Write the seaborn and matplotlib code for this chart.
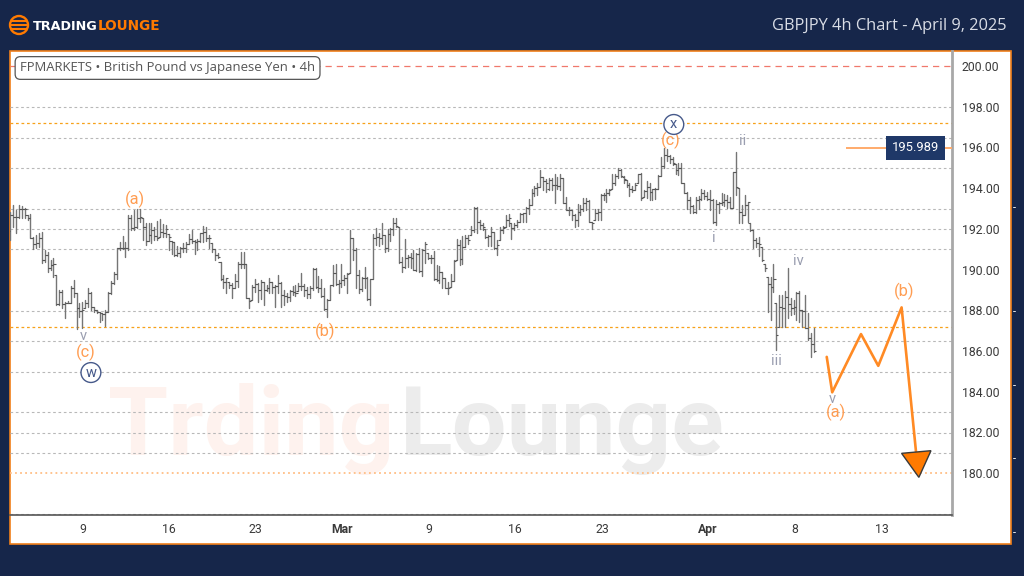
import matplotlib
matplotlib.use('Agg')
import matplotlib.pyplot as plt
from matplotlib.patches import Circle, Rectangle
import numpy as np
import pandas as pd
import seaborn as sns

# bars, left to right
bar_high = [
    192.84,193.17,192.92,193.17,193.1,193.04,192.68,192.75,191.61,191.69,191.78,191.83,190.96,190.88,190.47,190.55,189.73,189.02,188.99,188.42,188.45,189.2,189.48,188.86,188.34,188.42,188.5,189.07,188.91,188.17,188.01,187.9,187.85,188.01,188.88,189.43,189.89,191.04,191.37,191.66,191.37,192.68,192.68,192.92,193.0,193.0,192.55,192.27,192.3,
    192.27,192.11,192.38,192.47,192.24,192.19,191.73,191.4,191.34,191.17,191.12,191.29,191.37,191.73,191.94,191.45,191.48,191.78,192.14,192.07,191.7,191.29,191.0,190.79,190.39,189.73,189.6,189.37,189.32,189.77,190.35,190.88,190.88,190.25,188.62,189.24,189.53,189.32,189.48,189.4,189.24,189.6,189.37,189.24,189.73,189.37,188.99,
    188.83,188.99,189.2,189.24,189.32,189.81,189.27,189.16,189.2,190.06,190.06,189.68,189.53,189.07,188.55,189.24,190.22,190.25,189.48,190.25,189.73,189.81,191.94,191.53,191.07,189.98,189.65,190.11,189.65,189.53,191.73,192.06,191.78,192.27,191.7,191.99,192.06,192.51,192.51,192.11,190.63,191.5,190.71,190.79,190.96,190.79,191.04,190.99,191.37,
    190.79,190.71,190.92,190.22,190.17,189.89,189.61,189.4,189.78,190.47,191.48,191.45,191.65,191.69,191.69,192.14,193.05,193.05,192.43,192.3,191.97,191.69,192.07,191.86,191.45,192.1,192.14,192.68,192.73,192.3,192.3,192.46,192.79,192.79,193.09,193.45,193.94,194.1,194.23,194.89,194.53,194.43,194.48,194.48,194.69,194.53,194.69,194.48,193.55,
    193.08,192.92,192.72,193.21,193.17,193.54,193.54,193.41,192.35,193.0,193.0,193.71,193.77,193.98,193.98,194.72,194.72,194.97,194.92,194.59,194.39,194.23,194.1,194.23,194.72,194.75,193.9,194.36,194.26,193.98,194.03,194.64,195.54,195.95,195.9,195.62,195.51,195.18,195.25,195.25,194.26,193.82,193.58,193.17,193.58,193.61,193.94,193.9,193.82,
    193.91,193.47,193.42,193.34,193.75,193.7,193.66,193.58,194.78,195.76,194.02,193.17,193.66,193.34,192.27,191.94,191.53,191.62,191.12,190.26,189.65,189.65,190.26,188.34,188.75,188.75,188.95,190.06,188.59,188.5,188.91,188.95,188.01,188.75,187.85,186.87,187.14,
]
bar_low = [
    191.45,192.1,191.78,192.51,192.51,192.51,192.43,191.53,191.0,191.04,191.12,190.3,190.38,189.89,189.97,189.65,188.25,188.25,188.09,187.63,188.34,188.34,188.66,187.06,187.68,187.11,188.09,188.17,188.01,187.93,187.85,187.44,187.52,187.24,187.93,188.78,189.27,189.56,190.96,191.0,190.63,190.96,191.94,191.94,192.02,192.35,191.45,191.2,191.4,
    191.29,191.45,191.45,191.61,191.61,191.61,190.96,190.75,190.68,190.68,190.63,190.85,190.85,191.24,191.29,190.76,190.96,191.34,191.37,191.4,191.04,190.88,190.47,190.55,189.48,189.07,188.83,189.07,188.62,189.11,189.16,190.06,190.06,188.62,188.12,188.5,188.91,188.42,188.55,188.26,188.95,188.83,188.83,188.17,188.83,188.17,188.26,
    188.42,188.45,188.75,188.71,188.94,188.99,188.71,188.58,188.62,188.99,189.11,188.88,188.67,188.01,187.68,188.5,189.2,189.24,188.83,189.16,189.24,188.83,189.81,190.47,189.11,188.83,188.94,189.07,188.5,188.26,189.53,191.2,191.17,191.24,190.88,190.91,191.4,191.7,192.11,190.3,189.89,190.06,190.14,190.06,189.98,189.93,189.89,189.7,190.3,
    190.5,190.3,189.48,189.45,189.32,189.07,189.07,188.8,189.16,189.45,190.47,190.22,190.27,191.12,191.25,191.69,191.86,191.81,191.97,191.94,191.53,191.15,191.15,190.99,190.71,191.45,191.78,192.1,192.14,191.48,191.94,192.1,192.35,192.35,192.35,192.73,193.17,193.61,193.66,194.04,193.91,193.82,193.91,193.91,193.25,193.94,193.91,193.25,192.92,
    192.67,192.46,192.1,192.13,192.67,192.89,192.95,192.35,191.97,192.46,192.43,192.46,193.41,193.33,193.66,193.94,194.15,194.48,194.53,194.26,194.07,193.61,193.82,193.9,194.23,193.44,193.58,193.54,193.44,193.44,193.49,193.98,194.59,194.97,195.34,195.25,195.13,194.72,194.64,194.23,193.74,193.0,192.79,192.76,192.76,193.0,193.41,193.49,193.41,
    192.93,192.27,192.19,192.76,193.17,193.14,193.01,193.01,193.01,193.66,192.27,192.27,192.68,192.35,191.89,191.07,191.12,190.68,190.42,189.93,187.93,187.52,188.91,186.05,187.19,187.19,187.19,187.6,187.77,187.8,187.52,187.44,187.19,187.11,186.54,185.72,185.96,
]
bar_close = [
    192.68,192.6,192.6,193.0,192.97,192.96,192.51,191.53,191.24,191.29,191.53,190.47,190.74,190.06,190.22,190.25,188.29,188.91,188.29,188.34,188.38,189.07,188.83,188.09,187.95,188.0,188.38,188.83,188.17,188.01,187.93,187.85,187.8,187.93,188.83,189.32,189.76,191.04,191.07,191.07,191.07,192.55,192.02,192.1,192.55,192.6,192.1,191.4,191.7,
    191.94,191.66,191.53,191.86,191.78,191.99,191.61,191.37,190.71,190.79,191.04,191.07,191.24,191.5,191.4,191.37,191.4,191.78,191.86,191.53,191.56,191.0,190.71,190.63,189.53,189.37,189.57,189.25,189.07,189.43,190.25,190.25,190.28,188.62,188.47,189.16,189.27,188.99,189.37,188.99,189.07,189.37,189.16,189.2,189.32,188.75,188.72,
    188.67,188.94,188.88,188.83,189.2,189.2,188.99,188.78,189.11,190.03,189.12,189.11,188.71,188.06,188.5,189.22,189.81,189.29,189.32,189.48,189.57,189.8,191.53,190.96,189.73,189.04,189.6,189.6,188.53,189.53,191.53,191.61,191.56,191.7,191.04,191.73,191.99,192.27,192.14,190.35,190.14,190.58,190.6,190.55,189.98,190.75,189.93,190.96,191.24,
    190.55,190.55,189.52,189.48,189.89,189.57,189.1,189.07,189.45,190.43,191.2,190.5,191.12,191.53,191.45,191.94,193.03,192.35,192.19,192.1,191.58,191.65,191.86,191.04,191.2,191.94,192.02,192.46,192.51,192.02,192.19,192.35,192.73,192.76,193.01,193.17,193.74,193.99,194.04,194.56,194.36,194.23,194.4,194.15,194.15,194.1,194.48,193.28,192.92,
    192.92,192.67,192.43,192.84,193.0,193.25,193.38,192.35,192.27,192.79,192.84,193.66,193.66,193.74,193.9,194.26,194.59,194.89,194.59,194.43,194.15,193.94,193.9,194.15,194.69,193.54,193.87,194.07,193.82,193.94,193.98,194.61,195.08,195.62,195.57,195.41,195.25,194.89,194.97,194.23,193.77,193.44,193.12,192.84,193.44,193.49,193.74,193.61,193.49,
    193.42,192.32,193.2,193.25,193.34,193.42,193.34,193.04,194.78,194.07,192.84,192.68,193.17,193.3,191.94,191.45,191.29,191.24,190.47,190.06,189.27,189.16,189.52,186.78,188.18,188.13,188.67,188.29,188.09,188.18,188.83,188.01,187.96,187.14,186.65,186.32,186.0,
]
bar_open = [
    191.9,192.68,192.6,192.6,193.0,192.97,192.96,192.51,191.53,191.24,191.29,191.53,190.47,190.74,190.06,190.22,190.25,188.29,188.91,188.29,188.34,188.38,189.07,188.83,188.09,187.95,188.0,188.38,188.83,188.17,188.01,187.93,187.85,187.8,187.93,188.83,189.32,189.76,191.04,191.07,191.07,191.07,192.55,192.02,192.1,192.55,192.6,192.1,191.4,
    191.7,191.94,191.66,191.53,191.86,191.78,191.99,191.61,191.37,190.71,190.79,191.04,191.07,191.24,191.5,191.4,191.37,191.4,191.78,191.86,191.53,191.56,191.0,190.71,190.63,189.53,189.37,189.57,189.25,189.07,189.43,190.25,190.25,190.28,188.62,188.47,189.16,189.27,188.99,189.37,188.99,189.07,189.37,189.16,189.2,189.32,188.75,
    188.72,188.67,188.94,188.88,188.83,189.2,189.2,188.99,188.78,189.11,190.03,189.12,189.11,188.71,188.06,188.5,189.22,189.81,189.29,189.32,189.48,189.57,189.8,191.53,190.96,189.73,189.04,189.6,189.6,188.53,189.53,191.53,191.61,191.56,191.7,191.04,191.73,191.99,192.27,192.14,190.35,190.14,190.58,190.6,190.55,189.98,190.75,189.93,190.96,
    191.24,190.55,190.55,189.52,189.48,189.89,189.57,189.1,189.07,189.45,190.43,191.2,190.5,191.12,191.53,191.45,191.94,193.03,192.35,192.19,191.99,191.58,191.65,191.86,191.04,191.2,191.94,192.02,192.46,192.51,192.02,192.19,192.35,192.73,192.76,193.01,193.17,193.74,193.99,194.04,194.56,194.36,193.94,194.4,194.15,194.15,194.1,194.48,193.28,
    192.92,192.92,192.67,192.43,192.84,193.0,193.25,193.38,192.35,192.27,192.79,192.84,193.66,193.66,193.74,193.9,194.26,194.59,194.89,194.53,194.43,194.15,193.94,193.9,194.15,194.69,193.54,193.87,194.07,193.82,193.94,193.98,194.61,195.08,195.62,195.57,195.41,195.25,194.89,194.97,194.23,193.77,193.44,193.12,192.84,193.44,193.49,193.74,193.61,
    193.49,193.42,192.32,193.2,193.25,193.34,193.42,193.34,193.04,194.78,194.07,192.84,192.68,193.17,193.3,191.94,191.45,191.29,191.24,190.47,190.06,189.27,189.16,189.52,186.78,188.18,188.13,188.67,188.29,188.09,188.18,188.83,188.01,187.96,187.14,186.65,186.32,
]

# projected wave path and its arrow head
path_bar = [283.5, 285.4, 295.4, 301.4, 309.5, 314.5]
path_price = [185.71, 183.97, 186.83, 185.27, 188.14, 181.05]
head_bar = [309.5, 319.7, 315.5]
head_price = [180.97, 181.1, 179.79]

# horizontal levels
grey_levels = [198.0, 196.46, 194.99, 192.97, 191.99, 191.0, 187.96, 186.49, 184.96, 183.0, 181.97, 180.98, 177.98]
orange_levels = [197.2, 187.17]
y_ticks = [180, 182, 184, 186, 188, 190, 192, 194, 196, 198, 200]

# time axis
x_tick_bars = [25.2, 55.2, 85.2, 115.3, 145.3, 175.2, 205.5, 242.3, 272.5, 302.6]
x_tick_labels = ['9', '16', '23', 'Mar', '9', '16', '23', 'Apr', '8', '13']

# wave labels
orange_labels = ['(a)', '(c)', '(b)', '(c)', '(a)', '(b)']
orange_label_bars = [43.3, 26.3, 109.3, 229.4, 286.7, 310.3]
orange_label_prices = [193.46, 185.95, 186.98, 196.36, 182.98, 188.94]
grey_labels = ['v', 'ii', 'i', 'iv', 'iii', 'v']
grey_label_bars = [25.2, 254.4, 244.3, 273.5, 266.2, 285.3]
grey_label_prices = [186.73, 196.31, 191.55, 190.42, 185.5, 183.65]
circle_labels = ['w', 'x']
circle_label_bars = [28.0, 230.4]
circle_label_prices = [184.91, 197.1]

last_price = 195.989

navy = '#16264a'

sns.set_theme(style='white')
plt.rcParams['font.family'] = ['Roboto', 'DejaVu Sans']

fig = plt.figure(figsize=(10.24, 5.76), dpi=100, facecolor=navy)

# page background in pixel coordinates: panel, logo, title
bg = fig.add_axes([0, 0, 1, 1], zorder=0)
bg.set_xlim(0, 1024)
bg.set_ylim(576, 0)
bg.axis('off')
bg.add_patch(Rectangle((10, 50.5), 1001, 493, facecolor='white', edgecolor='#f07f1a', lw=1.2))
bg.add_patch(Circle((19, 25), 9, facecolor='none', edgecolor='#ff7a00', lw=1.7))
for yy in [20.8, 25, 29.2]:
    bg.plot([11, 27], [yy, yy], color='#ff7a00', lw=1.5, solid_capstyle='butt')
bg.text(33, 26, 'TRADING', color='white', fontsize=9.2, fontweight='bold', family='DejaVu Sans', va='center')
bg.text(98, 26, 'LOUNGE', color='#ff7a00', fontsize=9.8, fontweight='bold', family='DejaVu Sans', va='center')
bg.text(1007, 25.5, 'GBPJPY 4h Chart - April 9, 2025', color='#d9dde6', fontsize=11.8, family='Open Sans', ha='right', va='center')
for yy in [207, 311, 385, 458, 532]:
    bg.plot([1012.5, 1014.5], [yy, yy], color='#e8e8e8', lw=0.7)

ax = fig.add_axes([10 / 1024, 1 - 515 / 576, 942 / 1024, 464 / 576], zorder=1)
ax.set_facecolor('none')
ax.set_xlim(-0.1, 327.0)
ax.set_ylim(177.94, 200.74)

# watermark
ax.text(34, 180.9, 'Trding', color='#fef2ee', fontsize=70, fontweight='bold', family='Roboto', zorder=1)
ax.text(135.2, 180.9, 'Lounge', color='#ececec', fontsize=70, fontweight='bold', family='Roboto', zorder=1)

# levels
for lv in grey_levels:
    ax.axhline(lv, color='#b8b8b8', lw=0.8, dashes=(2.4, 2.4), zorder=2)
for lv in orange_levels:
    ax.axhline(lv, color='#f7a11a', lw=0.9, dashes=(2.2, 2.2), zorder=2)
ax.axhline(180, color='#ffbe85', lw=1.3, dashes=(1, 1.8), zorder=2)
ax.axhline(200, color='#f0786c', lw=0.9, dashes=(5, 4), zorder=2)

# ohlc bars: one line per bar from high to low, ticks for open and close
n_bars = len(bar_high)
bars = pd.DataFrame({
    'bar': np.arange(n_bars),
    'high': bar_high,
    'low': bar_low,
    'open': bar_open,
    'close': bar_close,
})
bars['open'] = bars['open'].clip(bars['low'], bars['high'])
bars['close'] = bars['close'].clip(bars['low'], bars['high'])
long_bars = bars.melt(id_vars='bar', value_vars=['high', 'low'], value_name='price')
sns.lineplot(data=long_bars, x='bar', y='price', units='bar', estimator=None, sort=False,
             color='#757575', lw=1.0, ax=ax, zorder=3, legend=False)
ax.hlines(bars['open'], bars['bar'] - 0.75, bars['bar'], color='#555555', lw=0.8, zorder=3)
ax.hlines(bars['close'], bars['bar'], bars['bar'] + 0.75, color='#555555', lw=0.8, zorder=3)

# projection
path = pd.DataFrame({'bar': path_bar, 'price': path_price})
sns.lineplot(data=path, x='bar', y='price', sort=False, estimator=None, color='#ff8a24', lw=1.9, ax=ax, zorder=4)
ax.fill(head_bar, head_price, facecolor='#ff7a00', edgecolor='#3a3a3a', lw=1.0, zorder=5)

# last price line and box
ax.plot([290.2, 327.0], [last_price, last_price], color='#ffab6b', lw=1.4, zorder=4, solid_capstyle='butt')
ax.text(314.3, last_price, '{:.3f}'.format(last_price), color='white', fontsize=9.4, ha='center', va='center', zorder=6,
        bbox=dict(boxstyle='square,pad=0.42', facecolor='#1f3868', edgecolor='none'))

# wave labels
for t, b, p in zip(orange_labels, orange_label_bars, orange_label_prices):
    ax.text(b, p, t, color='#ff9d52', fontsize=11.8, ha='center', va='center', zorder=6)
for t, b, p in zip(grey_labels, grey_label_bars, grey_label_prices):
    ax.text(b, p, t, color='#9a9eb0', fontsize=10.5, ha='center', va='center', zorder=6)
for t, b, p in zip(circle_labels, circle_label_bars, circle_label_prices):
    ax.text(b, p + 0.03, t, color='#46598a', fontsize=10.5, ha='center', va='center', zorder=6,
            bbox=dict(boxstyle='circle,pad=0.2', facecolor='white', edgecolor='#46598a', lw=1.0))

# chart caption box, in pixels, above everything
top = fig.add_axes([0, 0, 1, 1], zorder=2)
top.set_xlim(0, 1024)
top.set_ylim(576, 0)
top.axis('off')
top.text(20, 68, 'FPMARKETS • British Pound vs Japanese Yen • 4h', color='#555555', fontsize=9.45, family='Open Sans', va='center',
         bbox=dict(boxstyle='round,pad=0.37,rounding_size=0.4', facecolor='white', edgecolor='#555555', lw=0.9))

# axes
sns.despine(ax=ax, left=True, top=True, right=False, bottom=False)
ax.spines['right'].set_color('#a8a8a8')
ax.spines['right'].set_linewidth(2.0)
ax.spines['bottom'].set_color('#555555')
ax.spines['bottom'].set_linewidth(1.2)
ax.yaxis.tick_right()
ax.set_yticks(y_ticks)
ax.set_yticklabels(['{:.2f}'.format(v) for v in y_ticks], fontsize=8.8, color='#3a3a3a')
ax.set_xticks(x_tick_bars)
ax.set_xticklabels(x_tick_labels, fontsize=8.8, color='#3a3a3a')
for lab in ax.get_xticklabels():
    if lab.get_text() in ['Mar', 'Apr']:
        lab.set_fontweight('bold')
ax.tick_params(axis='y', length=0, pad=7)
ax.tick_params(axis='x', length=0, pad=5.5)
ax.set_xlabel('')
ax.set_ylabel('')

fig.savefig('out.png', dpi=100, facecolor=navy)
